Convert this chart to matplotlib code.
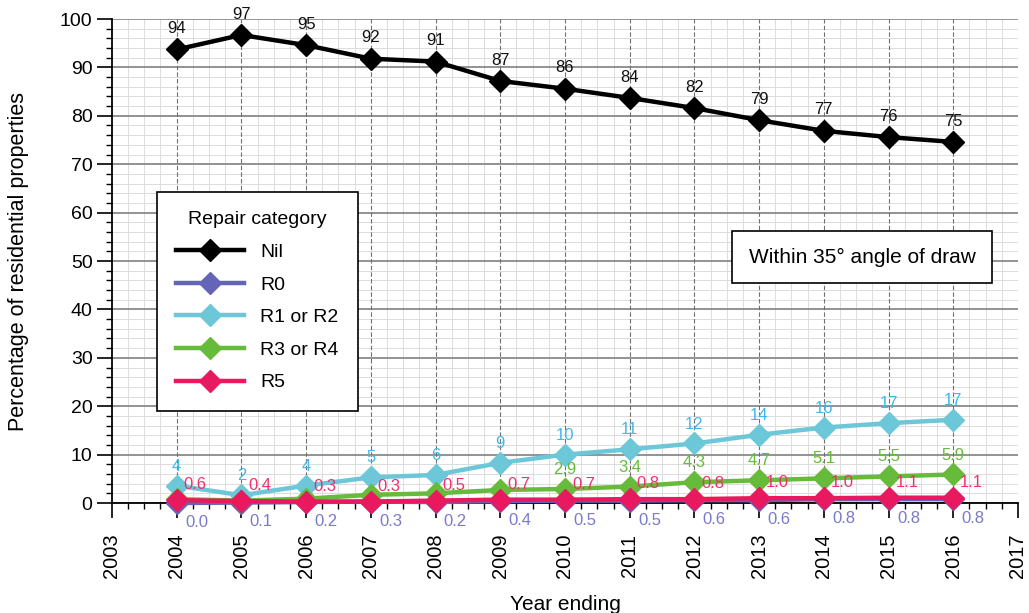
import matplotlib.pyplot as plt
from matplotlib.ticker import MultipleLocator

plt.rcParams['font.family'] = ['Liberation Sans', 'DejaVu Sans']

years = [2004, 2005, 2006, 2007, 2008, 2009, 2010, 2011, 2012, 2013, 2014, 2015, 2016]

nil = [93.7, 96.7, 94.6, 91.8, 91.2, 87.2, 85.6, 83.7, 81.6, 79.1, 76.9, 75.6, 74.6]
nil_labels = ['94', '97', '95', '92', '91', '87', '86', '84', '82', '79', '77', '76', '75']

r0 = [0.0, 0.1, 0.2, 0.3, 0.2, 0.4, 0.5, 0.5, 0.6, 0.6, 0.8, 0.8, 0.8]
r0_labels = ['0.0', '0.1', '0.2', '0.3', '0.2', '0.4', '0.5', '0.5', '0.6', '0.6', '0.8', '0.8', '0.8']

r12 = [3.6, 1.6, 3.6, 5.3, 5.8, 8.3, 10.0, 11.1, 12.3, 14.1, 15.6, 16.5, 17.2]
r12_labels = ['4', '2', '4', '5', '6', '9', '10', '11', '12', '14', '16', '17', '17']

r34 = [0.8, 0.5, 0.9, 1.7, 2.0, 2.7, 2.9, 3.4, 4.3, 4.7, 5.1, 5.5, 5.9]
r34_labels = ['', '', '', '', '', '', '2.9', '3.4', '4.3', '4.7', '5.1', '5.5', '5.9']

r5 = [0.6, 0.4, 0.3, 0.3, 0.5, 0.7, 0.7, 0.8, 0.8, 1.0, 1.0, 1.1, 1.1]
r5_labels = ['0.6', '0.4', '0.3', '0.3', '0.5', '0.7', '0.7', '0.8', '0.8', '1.0', '1.0', '1.1', '1.1']

fig = plt.figure(figsize=(10.29, 6.13), dpi=100)
ax = fig.add_axes([0.1088, 0.1794, 0.8805, 0.7896])

ax.set_xlim(2003, 2017)
ax.set_ylim(0, 100)

# grid
ax.xaxis.set_major_locator(MultipleLocator(1))
ax.xaxis.set_minor_locator(MultipleLocator(0.25))
ax.yaxis.set_major_locator(MultipleLocator(10))
ax.yaxis.set_minor_locator(MultipleLocator(2))
ax.grid(which='minor', color='#dcdcdc', lw=0.7)
ax.grid(which='major', axis='y', color='#8a8a8a', lw=1.3)
for yr in years:
    ax.axvline(yr, color='#707070', lw=0.8, ls=(0, (4, 2)), zorder=1)
ax.set_axisbelow(True)

for s in ['top', 'right']:
    ax.spines[s].set_visible(False)
ax.spines['left'].set_linewidth(1.3)
ax.spines['bottom'].set_linewidth(1.3)
ax.spines['bottom'].set_zorder(2)

ax.tick_params(axis='x', which='major', length=11, width=1.2, pad=11,
               labelsize=14.5, labelrotation=90)
ax.tick_params(axis='x', which='minor', length=4.5, width=1)
ax.tick_params(axis='y', which='major', length=11, width=1.2, pad=3, labelsize=14)
ax.tick_params(axis='y', which='minor', length=4.5, width=1)

series = [
    ('Nil', nil, '#000000'),
    ('R0', r0, '#6464b8'),
    ('R1 or R2', r12, '#6cc8d9'),
    ('R3 or R4', r34, '#66bb3a'),
    ('R5', r5, '#e8195e'),
]
for name, vals, col in series:
    ax.plot(years, vals, color=col, lw=3.2, marker='D', ms=11.5, label=name,
            clip_on=False, zorder=3)

# data labels
fs = 12
for x, v, t in zip(years, nil, nil_labels):
    ax.annotate(t, (x, v), xytext=(0, 15), textcoords='offset points',
                ha='center', va='center', fontsize=fs, color='#111111')
for x, v, t in zip(years, r12, r12_labels):
    ax.annotate(t, (x, v), xytext=(0, 14), textcoords='offset points',
                ha='center', va='center', fontsize=fs, color='#41b8e6')
for x, v, t in zip(years, r34, r34_labels):
    ax.annotate(t, (x, v), xytext=(0, 14), textcoords='offset points',
                ha='center', va='center', fontsize=fs, color='#66bb3a')
for x, v, t in zip(years, r5, r5_labels):
    ax.annotate(t, (x, v), xytext=(5, 11), textcoords='offset points',
                ha='left', va='center', fontsize=fs, color='#f0306e')
for x, v, t in zip(years, r0, r0_labels):
    ax.annotate(t, (x, v), xytext=(6, -14), textcoords='offset points',
                ha='left', va='center', fontsize=fs, color='#7a7acb',
                annotation_clip=False)

leg = ax.legend(title='Repair category', loc='upper left',
                bbox_to_anchor=(0.0497, 0.6426), borderaxespad=0,
                fontsize=14, title_fontsize=14, fancybox=False,
                edgecolor='black', framealpha=1, handlelength=3.5,
                labelspacing=0.77, borderpad=1.0, numpoints=1)
leg.get_frame().set_linewidth(1.2)

ax.text(0.828, 0.508, 'Within 35\u00b0 angle of draw', transform=ax.transAxes,
        ha='center', va='center', fontsize=15,
        bbox=dict(boxstyle='square,pad=0.8', fc='white', ec='black', lw=1.2))

ax.set_xlabel('Year ending', fontsize=15, labelpad=12)
ax.set_ylabel('Percentage of residential properties', fontsize=15.5, labelpad=22)

fig.savefig('out.png', dpi=100)
